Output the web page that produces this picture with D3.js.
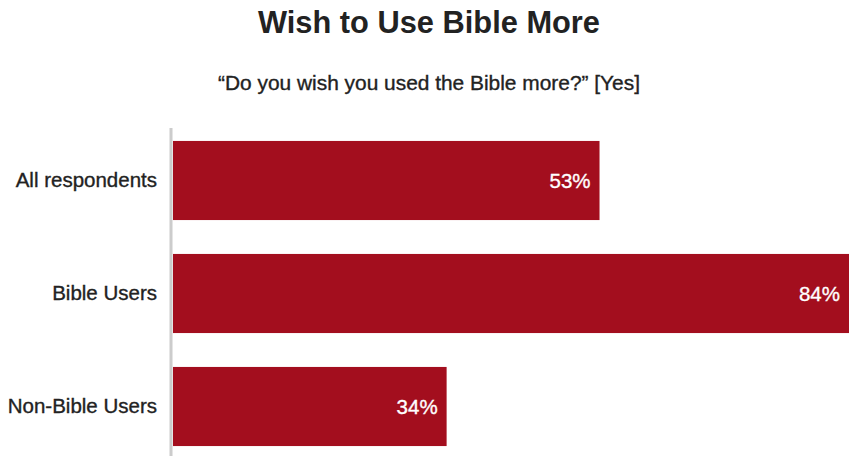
<!DOCTYPE html>
<html><head><meta charset="utf-8">
<script src="https://cdn.jsdelivr.net/npm/d3@7"></script>
<style>body{margin:0;background:#fff}</style>
</head><body>
<svg id="c" width="852" height="456"></svg>
<script>
const categories = ["All respondents", "Bible Users", "Non-Bible Users"];
const values = [53, 84, 34];
const title = "Wish to Use Bible More";
const subtitle = "\u201CDo you wish you used the Bible more?\u201D [Yes]";

const svg = d3.select("#c");
const font = "'Liberation Sans', Arial, sans-serif";
const x = d3.scaleLinear().domain([0, 84]).range([173, 849]);
const y = d3.scaleBand().domain(categories).range([124, 463]).paddingInner(0.3).paddingOuter(0.15);

svg.append("text").attr("x", 429).attr("y", 33).attr("text-anchor", "middle")
  .attr("font-family", font).attr("font-weight", "bold")
  .attr("font-size", 31).attr("fill", "#222")
  .attr("textLength", 342).attr("lengthAdjust", "spacingAndGlyphs").text(title);
svg.append("text").attr("x", 429).attr("y", 90).attr("text-anchor", "middle")
  .attr("font-family", font).attr("font-size", 21).attr("fill", "#222")
  .attr("stroke", "#222").attr("stroke-width", 0.35)
  .attr("textLength", 422).attr("lengthAdjust", "spacingAndGlyphs").text(subtitle);

svg.selectAll("rect.bar").data(values).join("rect").attr("class", "bar")
  .attr("x", x(0)).attr("y", (d, i) => y(categories[i]))
  .attr("width", d => x(d) - x(0)).attr("height", y.bandwidth()).attr("fill", "#a30e1e");

svg.selectAll("text.val").data(values).join("text").attr("class", "val")
  .attr("x", d => x(d) - 9).attr("y", (d, i) => y(categories[i]) + y.bandwidth() / 2 + 7.5)
  .attr("text-anchor", "end").attr("font-family", font).attr("font-size", 20.5)
  .attr("fill", "#fff").attr("stroke", "#fff").attr("stroke-width", 0.35).text(d => d + "%");

const axis = svg.append("g").attr("transform", "translate(171,0)")
  .call(d3.axisLeft(y).tickSize(0).tickPadding(14));
axis.select(".domain").remove();
axis.append("line").attr("x1", 0).attr("x2", 0).attr("y1", 128).attr("y2", 456)
  .attr("stroke", "#ccc").attr("stroke-width", 3);
axis.selectAll(".tick text").attr("font-family", font).attr("font-size", 20.5).attr("fill", "#222")
  .attr("stroke", "#222").attr("stroke-width", 0.35).attr("dy", "0.34em");
</script>
</body></html>
